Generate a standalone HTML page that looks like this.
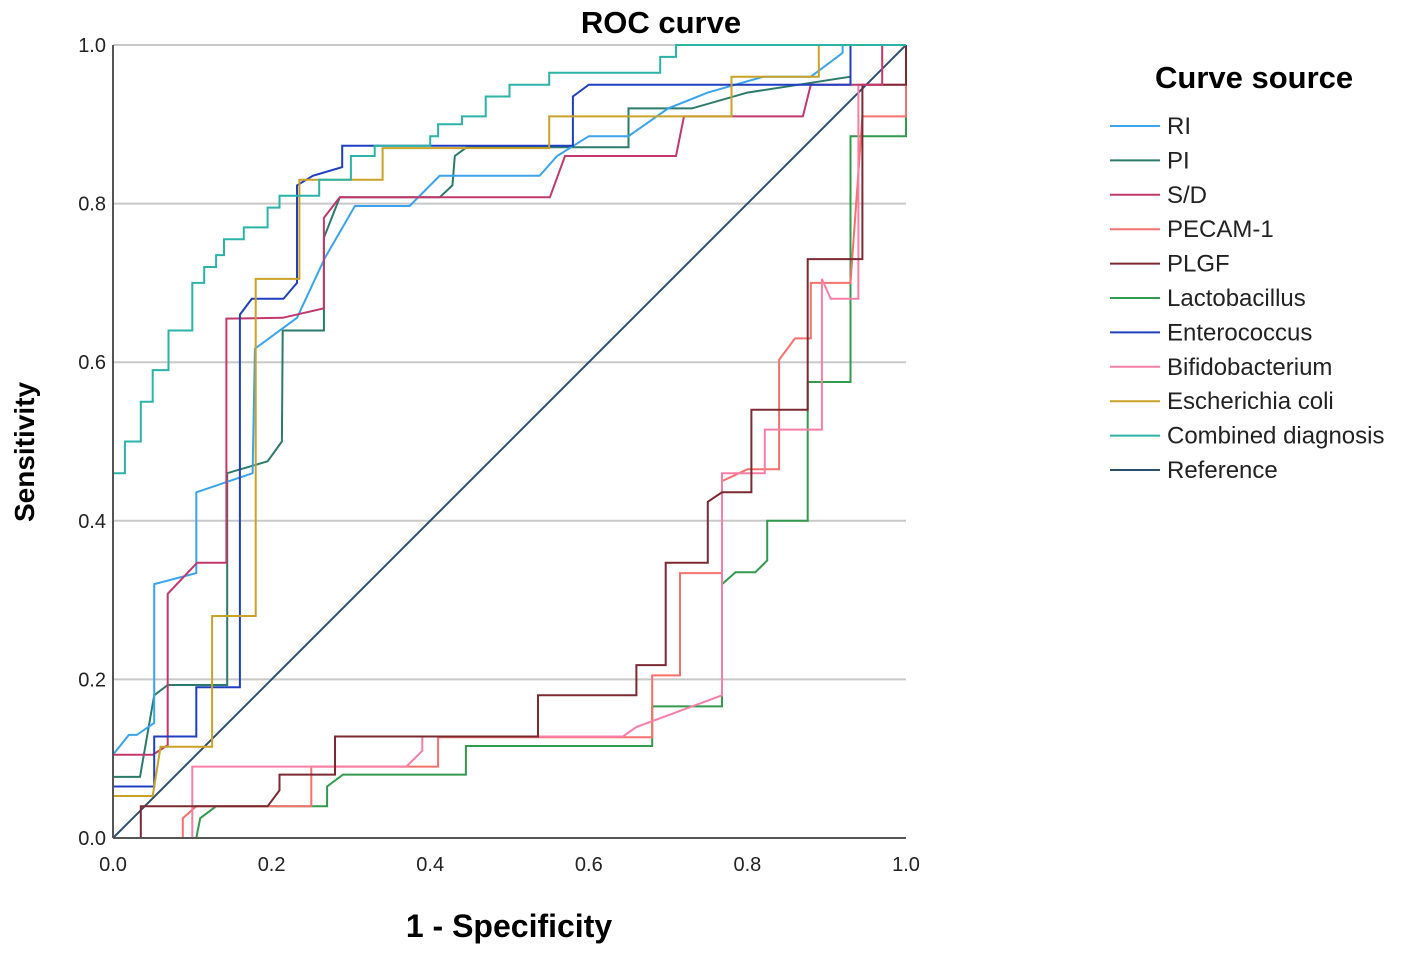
<!DOCTYPE html>
<html><head><meta charset="utf-8"><style>
body{margin:0;background:#fff;font-family:"Liberation Sans",Arial,sans-serif}
svg text{font-family:"Liberation Sans",Arial,sans-serif}
</style></head><body>
<svg id="chart" width="1418" height="952" xmlns="http://www.w3.org/2000/svg">
<text x="661" y="33" text-anchor="middle" font-size="31" font-weight="bold">ROC curve</text>
<text transform="translate(34,452) rotate(-90)" text-anchor="middle" font-size="28" font-weight="bold">Sensitivity</text>
<text x="509" y="937" text-anchor="middle" font-size="32" font-weight="bold">1 - Specificity</text>
<g id="grid"></g>
<g id="series"></g>
<g id="axes"></g>
<g id="legend">
<text x="1155" y="88" font-size="31" font-weight="bold">Curve source</text>
</g>
</svg>
<script>
const ticks=[0,0.2,0.4,0.6,0.8,1.0];
const tickLabels=["0.0","0.2","0.4","0.6","0.8","1.0"];
const names=["RI","PI","S/D","PECAM-1","PLGF","Lactobacillus","Enterococcus","Bifidobacterium","Escherichia coli","Combined diagnosis","Reference"];
const colors=["#3aa3ee","#2b7a6a","#c2386b","#f6706c","#7a2a30","#329a4c","#1f3fbf","#f77fa6","#c9a227","#2bb3a8","#2b4e6b"];
const riX=[0,0.02,0.03,0.052,0.052,0.105,0.105,0.176,0.179,0.232,0.267,0.305,0.374,0.412,0.538,0.56,0.6,0.65,0.7,0.75,0.82,0.88,0.92,0.92,1];
const riY=[0.105,0.13,0.13,0.145,0.32,0.334,0.436,0.46,0.617,0.656,0.731,0.797,0.797,0.835,0.835,0.86,0.885,0.885,0.92,0.94,0.96,0.96,0.99,1,1];
const piX=[0,0.034,0.052,0.069,0.144,0.144,0.195,0.213,0.214,0.266,0.266,0.286,0.412,0.428,0.431,0.446,0.65,0.65,0.73,0.8,0.93,0.93,1];
const piY=[0.077,0.077,0.18,0.193,0.193,0.46,0.475,0.5,0.64,0.64,0.757,0.808,0.808,0.823,0.86,0.871,0.871,0.92,0.92,0.94,0.96,1,1];
const sdX=[0,0.05,0.069,0.069,0.106,0.143,0.143,0.214,0.266,0.266,0.286,0.551,0.57,0.71,0.72,0.87,0.88,0.97,0.97,1];
const sdY=[0.105,0.105,0.117,0.308,0.347,0.347,0.655,0.656,0.668,0.782,0.808,0.808,0.86,0.86,0.91,0.91,0.95,0.95,1,1];
const peX=[0,0.088,0.088,0.105,0.25,0.25,0.41,0.41,0.68,0.68,0.715,0.715,0.768,0.768,0.8,0.84,0.84,0.86,0.88,0.88,0.93,0.945,1,1];
const peY=[0,0,0.025,0.04,0.04,0.09,0.09,0.127,0.127,0.205,0.205,0.334,0.334,0.45,0.465,0.465,0.603,0.63,0.63,0.7,0.7,0.91,0.91,1];
const plX=[0,0.035,0.035,0.195,0.21,0.21,0.28,0.28,0.536,0.536,0.66,0.66,0.697,0.697,0.75,0.75,0.768,0.805,0.805,0.876,0.876,0.945,0.945,1,1];
const plY=[0,0,0.04,0.04,0.06,0.08,0.08,0.128,0.128,0.18,0.18,0.218,0.218,0.347,0.347,0.424,0.436,0.436,0.54,0.54,0.73,0.73,0.95,0.95,1];
const laX=[0,0.105,0.11,0.13,0.27,0.27,0.29,0.445,0.445,0.68,0.68,0.768,0.768,0.785,0.81,0.825,0.825,0.876,0.876,0.93,0.93,1,1];
const laY=[0,0,0.025,0.04,0.04,0.065,0.08,0.08,0.116,0.116,0.166,0.166,0.32,0.335,0.335,0.35,0.4,0.4,0.575,0.575,0.885,0.885,1];
const enX=[0,0.052,0.052,0.105,0.105,0.16,0.16,0.175,0.215,0.232,0.232,0.252,0.289,0.289,0.58,0.58,0.6,0.93,0.93,1];
const enY=[0.065,0.065,0.128,0.128,0.19,0.19,0.66,0.68,0.68,0.7,0.823,0.835,0.846,0.873,0.873,0.935,0.95,0.95,1,1];
const biX=[0,0.1,0.1,0.37,0.39,0.39,0.643,0.66,0.768,0.768,0.822,0.822,0.894,0.894,0.905,0.94,0.94,1,1];
const biY=[0,0,0.09,0.09,0.11,0.128,0.128,0.14,0.18,0.46,0.46,0.515,0.515,0.705,0.68,0.68,0.95,0.95,1];
const ecX=[0,0.05,0.06,0.125,0.125,0.18,0.18,0.235,0.235,0.34,0.34,0.55,0.55,0.78,0.78,0.89,0.89,1];
const ecY=[0.053,0.053,0.115,0.115,0.28,0.28,0.705,0.705,0.83,0.83,0.87,0.87,0.91,0.91,0.96,0.96,1,1];
const coX=[0,0,0.015,0.015,0.035,0.035,0.05,0.05,0.07,0.07,0.1,0.1,0.115,0.115,0.13,0.13,0.14,0.14,0.165,0.165,0.195,0.195,0.21,0.21,0.26,0.26,0.3,0.3,0.33,0.33,0.4,0.4,0.41,0.41,0.44,0.44,0.47,0.47,0.5,0.5,0.55,0.55,0.69,0.69,0.71,0.71,1];
const coY=[0,0.46,0.46,0.5,0.5,0.55,0.55,0.59,0.59,0.64,0.64,0.7,0.7,0.72,0.72,0.735,0.735,0.755,0.755,0.77,0.77,0.795,0.795,0.81,0.81,0.83,0.83,0.86,0.86,0.873,0.873,0.885,0.885,0.9,0.9,0.91,0.91,0.935,0.935,0.95,0.95,0.965,0.965,0.985,0.985,1,1];
const refX=[0,1];
const refY=[0,1];

const X0=113,X1=906,Y0=838,Y1=45;
function sx(v){return X0+v*(X1-X0);}
function sy(v){return Y0-v*(Y0-Y1);}
const NS="http://www.w3.org/2000/svg";
function mk(t,a,p){const e=document.createElementNS(NS,t);for(const k in a)e.setAttribute(k,a[k]);p.appendChild(e);return e;}
const grid=document.getElementById('grid'),axes=document.getElementById('axes'),ser=document.getElementById('series'),leg=document.getElementById('legend');
ticks.forEach((t,i)=>{
  if(t>0){const g=mk('line',{x1:X0,x2:X1,y1:sy(t),y2:sy(t),stroke:'#c8c8c8','stroke-width':2},grid);
  
  }
  const ty=mk('text',{x:X0-7,y:sy(t)+7,'text-anchor':'end','font-size':20,fill:'#222'},axes);ty.textContent=tickLabels[i];
  
  
  const tx=mk('text',{x:sx(t),y:Y0+33,'text-anchor':'middle','font-size':20,fill:'#222'},axes);tx.textContent=tickLabels[i];
  
  
});
const ya=mk('line',{x1:X0,x2:X0,y1:Y1,y2:Y0,stroke:'#555','stroke-width':2},axes);


const xa=mk('line',{x1:X0,x2:X1,y1:Y0,y2:Y0,stroke:'#555','stroke-width':2},axes);


const data=[[riX,riY],[piX,piY],[sdX,sdY],[peX,peY],[plX,plY],[laX,laY],[enX,enY],[biX,biY],[ecX,ecY],[coX,coY],[refX,refY]];
const order=[10,5,3,7,4,1,0,2,6,8,9];
order.forEach(i=>{
  const [xs,ys]=data[i];
  const pts=xs.map((v,j)=>sx(v).toFixed(1)+','+sy(ys[j]).toFixed(1)).join(' ');
  const p=mk('polyline',{points:pts,fill:'none',stroke:colors[i],'stroke-width':2},ser);
  
  
});
names.forEach((n,i)=>{
  const y=126+i*34.4;
  const l=mk('line',{x1:1110,x2:1160,y1:y,y2:y,stroke:colors[i],'stroke-width':2},leg);
  
  
  const t=mk('text',{x:1167,y:y+8,'font-size':24,fill:'#222'},leg);t.textContent=n;
  
  
});
</script>
</body></html>
